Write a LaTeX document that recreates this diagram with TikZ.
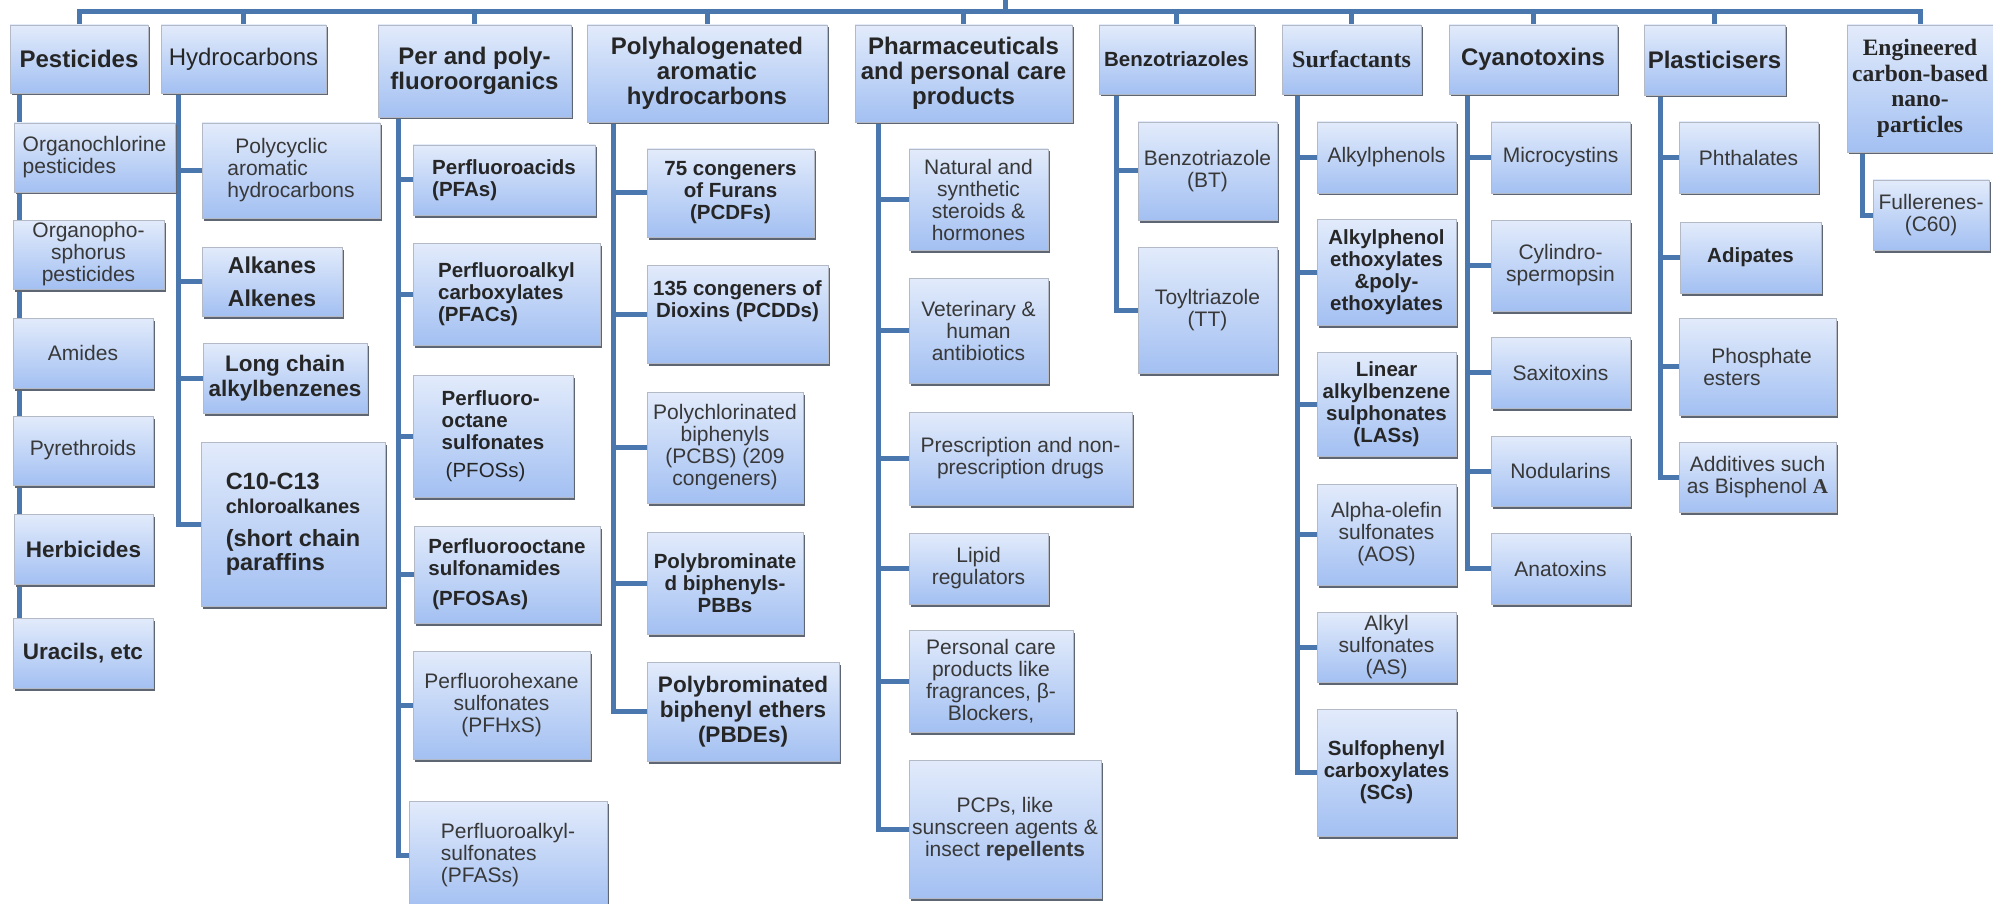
\documentclass[tikz,border=0pt]{standalone}
\usepackage{fontspec}
\setmainfont{Liberation Sans}
\newfontfamily\timesfont{Liberation Serif}
\usepackage{tikz}
\usetikzlibrary{shadows,backgrounds}
\definecolor{boxtop}{HTML}{E2EBFB}
\definecolor{boxbot}{HTML}{A3C0F2}
\definecolor{boxline}{HTML}{B3BAC6}
\definecolor{boxshade}{HTML}{5E6673}
\definecolor{linkblue}{HTML}{4A77AE}
\tikzset{
    %Define style for boxes
    box/.style={
           rectangle,
           draw=boxline, line width=0.8pt,
           top color=boxtop, bottom color=boxbot,
           general shadow={fill=boxshade, shadow xshift=1.5pt, shadow yshift=-2.5pt},
           inner sep=2pt,
           align=center,
           text=black!85,
           },
    head/.style={box, font=\fontsize{24}{25}\selectfont\bfseries},
    sub/.style={box, font=\fontsize{21}{22}\selectfont, text=black!78},
    subb/.style={box, font=\fontsize{20.5}{22}\selectfont\bfseries},
    big/.style={box, font=\fontsize{22.5}{25}\selectfont\bfseries},
    sz/.style 2 args={minimum width=#1, minimum height=#2},
    % Define line style
    link/.style={draw=linkblue, line width=5pt},
}
\begin{document}
\begin{tikzpicture}[x=1pt,y=-1pt]
\useasboundingbox (0,0) rectangle (1993,904);

 %top row
\node[head, sz={138}{68}] (pest) at (79,59) {Pesticides};
\node[head, sz={165}{68}, font=\fontsize{24}{25}\selectfont] (hyd) at (243.5,59) {Hydrocarbons};
\node[head, sz={193}{92}] (pfo) at (474.5,71) {Per and poly-\\fluoroorganics};
\node[head, sz={240}{97}] (pah) at (707,73.5) {Polyhalogenated\\aromatic\\hydrocarbons};
\node[head, sz={217}{97}] (ppcp) at (963.5,73.5) {Pharmaceuticals\\and personal care\\products};
\node[head, sz={155}{69}, font=\fontsize{20.5}{25}\selectfont\bfseries] (bzt) at (1176.5,59.5) {Benzotriazoles};
\node[head, sz={139}{69}, font=\timesfont\fontsize{24}{25}\selectfont\bfseries] (surf) at (1351.5,59.5) {Surfactants};
\node[head, sz={168}{69}] (cyan) at (1533,59.5) {Cyanotoxins};
\node[head, sz={141}{70}] (plas) at (1714.5,60) {Plasticisers};
\node[head, sz={146}{127}, font=\timesfont\fontsize{23.5}{25.5}\selectfont\bfseries] (eng) at (1920,88.5) {Engineered\\carbon-based\\nano-\\particles};

 %pesticides
\node[sub, sz={161}{69}, align=left] (ocp) at (94.5,157.5) {Organochlorine\\pesticides};
\node[sub, sz={151}{69}] (opp) at (88.5,254.5) {Organopho-\\sphorus\\pesticides};
\node[sub, sz={140}{70}] (ami) at (83,353) {Amides};
\node[sub, sz={140}{69}] (pyr) at (83,450.5) {Pyrethroids};
\node[big, sz={139}{70}] (herb) at (83.5,549) {Herbicides};
\node[big, sz={140}{70}] (ura) at (83,653) {Uracils, etc};

 %hydrocarbons
\node[sub, sz={178}{95}, align=left] (pahc) at (291,170.5) {\hspace*{8pt}Polycyclic\\aromatic\\hydrocarbons};
\node[big, sz={140}{69}, font=\fontsize{23}{33}\selectfont\bfseries] (alk) at (272,281.5) {Alkanes\\Alkenes};
\node[big, sz={164}{70}] (lab) at (285,378) {Long chain\\alkylbenzenes};
\node[big, sz={184}{164}, align=left, font=\fontsize{23.5}{24}\selectfont\bfseries] (cp) at (293,524)
  {C10-C13\\{\fontsize{20}{22}\selectfont chloroalkanes}\\[9pt](short chain\\paraffins};

 %fluoroorganics
\node[subb, sz={182}{70}, align=left] (pfa) at (504,180) {Perfluoroacids\\(PFAs)};
\node[subb, sz={187}{102}, align=left] (pfac) at (506.5,294) {Perfluoroalkyl\\carboxylates\\(PFACs)};
\node[subb, sz={160}{122}, align=left] (pfos) at (493,436) {Perfluoro-\\octane\\sulfonates\\[6pt]\hspace*{4pt}{\mdseries (PFOSs)}};
\node[subb, sz={186}{97}, align=left] (pfosa) at (507,574.5) {Perfluorooctane\\sulfonamides\\[8pt]\hspace*{4pt}(PFOSAs)};
\node[sub, sz={177}{108}] (pfhxs) at (501.5,705) {Perfluorohexane\\sulfonates\\(PFHxS)};
\node[sub, sz={198}{108}, align=left] (pfas) at (508,855) {Perfluoroalkyl-\\sulfonates\\(PFASs)};

 %polyhalogenated
\node[subb, sz={167}{88}] (pcdf) at (730.5,193) {75 congeners\\of Furans\\(PCDFs)};
\node[subb, sz={181}{98}] (pcdd) at (737.5,314) {135 congeners of\\Dioxins (PCDDs)\\[8pt]};
\node[sub, sz={156}{111}] (pcb) at (725,447.5) {Polychlorinated\\biphenyls\\(PCBS) (209\\congeners)};
\node[subb, sz={156}{102}] (pbb) at (725,583) {Polybrominate\\d biphenyls-\\PBBs};
\node[big, sz={192}{99}] (pbde) at (743,711.5) {Polybrominated\\biphenyl ethers\\(PBDEs)};

 %pharmaceuticals
\node[sub, sz={139}{101}] (ster) at (978.5,199.5) {Natural and\\synthetic\\steroids \&\\hormones};
\node[sub, sz={139}{105}] (abx) at (978.5,330.5) {Veterinary \&\\human\\antibiotics};
\node[sub, sz={223}{93}] (drug) at (1020.5,458.5) {Prescription and non-\\prescription drugs};
\node[sub, sz={139}{71}] (lipid) at (978.5,568.5) {Lipid\\regulators};
\node[sub, sz={164}{102}] (pcare) at (991,681) {Personal care\\products like\\fragrances, β-\\Blockers,};
\node[sub, sz={192}{138}] (pcps) at (1005,829) {PCPs, like\\sunscreen agents \&\\insect \textbf{repellents}};

 %benzotriazoles
\node[sub, sz={139}{98}] (bt) at (1207.5,171) {Benzotriazole\\(BT)};
\node[sub, sz={139}{126}] (tt) at (1207.5,310) {Toyltriazole\\(TT)};

 %surfactants
\node[sub, sz={139}{71}] (ap) at (1386.5,157.5) {Alkylphenols};
\node[subb, sz={139}{106}] (ape) at (1386.5,272) {Alkylphenol\\ethoxylates\\\&poly-\\ethoxylates};
\node[subb, sz={139}{104}] (las) at (1386.5,404) {Linear\\alkylbenzene\\sulphonates\\(LASs)};
\node[sub, sz={139}{101}] (aos) at (1386.5,534.5) {Alpha-olefin\\sulfonates\\(AOS)};
\node[sub, sz={139}{70}] (alks) at (1386.5,647) {Alkyl\\sulfonates\\(AS)};
\node[subb, sz={139}{127}] (sc) at (1386.5,772.5) {Sulfophenyl\\carboxylates\\(SCs)};

 %cyanotoxins
\node[sub, sz={139}{71}] (mc) at (1560.5,157.5) {Microcystins};
\node[sub, sz={139}{91}] (cyl) at (1560.5,265.5) {Cylindro-\\spermopsin};
\node[sub, sz={139}{71}] (sax) at (1560.5,372.5) {Saxitoxins};
\node[sub, sz={139}{70}] (nod) at (1560.5,471) {Nodularins};
\node[sub, sz={139}{71}] (ana) at (1560.5,568.5) {Anatoxins};

 %plasticisers
\node[sub, sz={139}{71}] (pht) at (1748.5,157.5) {Phthalates};
\node[subb, sz={141}{71}] (adi) at (1750.5,257.5) {Adipates};
\node[sub, sz={157}{97}, align=left] (phos) at (1757.5,366.5) {\hspace*{8pt}Phosphate\\esters};
\node[sub, sz={157}{70}] (bpa) at (1757.5,477) {Additives such\\as Bisphenol {\timesfont\bfseries A}};

 %carbon nanoparticles
\node[sub, sz={116}{70}] (c60) at (1931,215) {Fullerenes-\\(C60)};

\begin{scope}[on background layer]
 %top bus
 \coordinate (bus) at (0,12);
 \coordinate (root) at (1005,0);
 \draw[link] (root) -- (root |- bus);
 \draw[link] (pest.north) -- (pest.north |- bus) -- (eng.north |- bus) -- (eng.north);
 \foreach \h in {hyd,pfo,pah,ppcp,bzt,surf,cyan,plas}
   \draw[link] (\h.north) -- (\h.north |- bus);
 %spines to the sub-groups
 \foreach \p/\sx/\kids in {pest/19/{ocp,opp,ami,pyr,herb,ura},
                           hyd/178/{pahc,alk,lab,cp},
                           pfo/398/{pfa,pfac,pfos,pfosa,pfhxs,pfas},
                           pah/613/{pcdf,pcdd,pcb,pbb,pbde},
                           ppcp/878/{ster,abx,drug,lipid,pcare,pcps},
                           bzt/1116/{bt,tt},
                           surf/1297/{ap,ape,las,aos,alks,sc},
                           cyan/1467/{mc,cyl,sax,nod,ana},
                           plas/1660/{pht,adi,phos,bpa},
                           eng/1862/{c60}}
   \foreach \c in \kids
     \draw[link] (\p.south -| \sx,0) |- (\c.west);
\end{scope}
\end{tikzpicture}
\end{document}
